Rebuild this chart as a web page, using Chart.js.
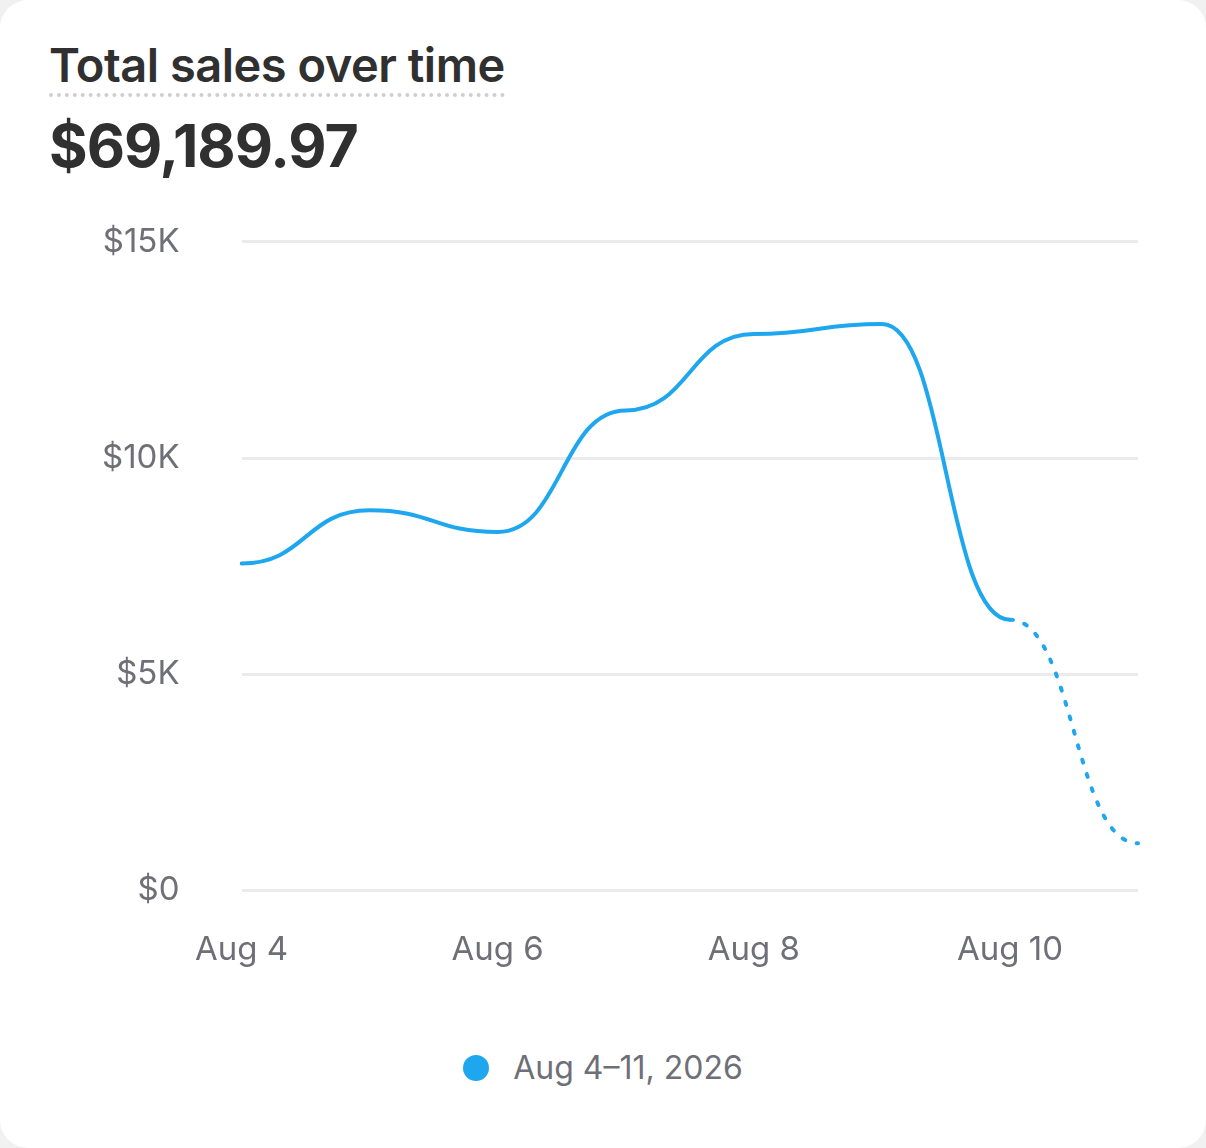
<!DOCTYPE html>
<html>
<head>
<meta charset="utf-8">
<script src="https://cdn.jsdelivr.net/npm/chart.js@4"></script>
<style>
  body { margin: 0; background: #f1f1f1; font-family: Inter, "Noto Sans", sans-serif; }
  .card { position: absolute; left: 0; top: 0; width: 1206px; height: 1148px; background: #fff; border-radius: 28px; }
  .title { position: absolute; left: 49px; top: 36px; font-size: 47px; font-weight: 600; color: #303030;
           border-bottom: 4px dotted #cfcfcf; padding-bottom: 0px; letter-spacing: -0.5px; }
  .total { position: absolute; left: 49px; top: 110px; font-size: 59px; font-weight: 700; color: #303030; letter-spacing: -1px; }
  .wrap { position: absolute; left: 40px; top: 160px; width: 1130px; height: 842px; }
  .legend { position: absolute; left: 0; width: 1206px; top: 1048px; text-align: center; font-size: 32px; color: #6f6f78; }
  .dot { display: inline-block; width: 26px; height: 26px; border-radius: 50%; background: #1ea7ee; margin-right: 24px; vertical-align: -2px; }
</style>
</head>
<body>
<div class="card">
  <div class="title">Total sales over time</div>
  <div class="total">$69,189.97</div>
  <div class="wrap"><canvas id="salesChart"></canvas></div>
  <div class="legend"><span class="dot"></span>Aug 4–11, 2026</div>
</div>
<script>
// Daily totals, Aug 4 to Aug 11 (last day still in progress)
const days = ['Aug 4', 'Aug 5', 'Aug 6', 'Aug 7', 'Aug 8', 'Aug 9', 'Aug 10', 'Aug 11'];
const sales = [7560, 8790, 8290, 11100, 12870, 13100, 6260, 1090];
const yTicks = [0, 5000, 10000, 15000];

// flat tangents at every point (bump-style curve)
const bumpCurve = {
    id: 'bumpCurve',
    beforeDatasetsDraw(chart) {
        chart.getSortedVisibleDatasetMetas().forEach(meta => {
            const pts = meta.data;
            pts.forEach((p, i) => {
                const prev = pts[i - 1], next = pts[i + 1];
                if (prev) { p.cp1x = p.x - (p.x - prev.x) / 2; p.cp1y = p.y; }
                if (next) { p.cp2x = p.x + (next.x - p.x) / 2; p.cp2y = p.y; }
            });
        });
    }
};

const ctx = document.getElementById('salesChart').getContext('2d');
new Chart(ctx, {
    type: 'line',
    data: {
        labels: days,
        datasets: [{
            label: 'Aug 4–11, 2026',
            data: sales,
            borderColor: '#1ea7ee',
            borderWidth: 4,
            pointRadius: 0,
            tension: 0.4,
            segment: {
                // incomplete last day drawn dotted
                borderDash: c => c.p1DataIndex === sales.length - 1 ? [3, 12] : undefined
            },
            borderCapStyle: 'round'
        }]
    },
    options: {
        responsive: true,
        maintainAspectRatio: false,
        animation: false,
        layout: { padding: { right: 20, top: 0 } },
        plugins: { legend: { display: false }, tooltip: { enabled: false } },
        scales: {
            x: {
                offset: false,
                grid: { display: false },
                border: { display: false },
                ticks: {
                    autoSkip: false,
                    maxRotation: 0,
                    padding: 32,
                    color: '#6f6f78',
                    font: { size: 33, family: 'Inter' },
                    callback: function(v, i) { return i % 2 === 0 ? days[i] : ''; }
                }
            },
            y: {
                min: 0,
                max: 15000,
                afterBuildTicks: axis => { axis.ticks = yTicks.map(v => ({ value: v })); },
                grid: { color: '#ebebeb', lineWidth: 3, drawTicks: false },
                border: { display: false },
                ticks: {
                    padding: 62,
                    color: '#6f6f78',
                    font: { size: 33, family: 'Inter' },
                    callback: v => v === 0 ? '$0' : '$' + (v / 1000) + 'K'
                }
            }
        }
    },
    plugins: [bumpCurve]
});
</script>
</body>
</html>
